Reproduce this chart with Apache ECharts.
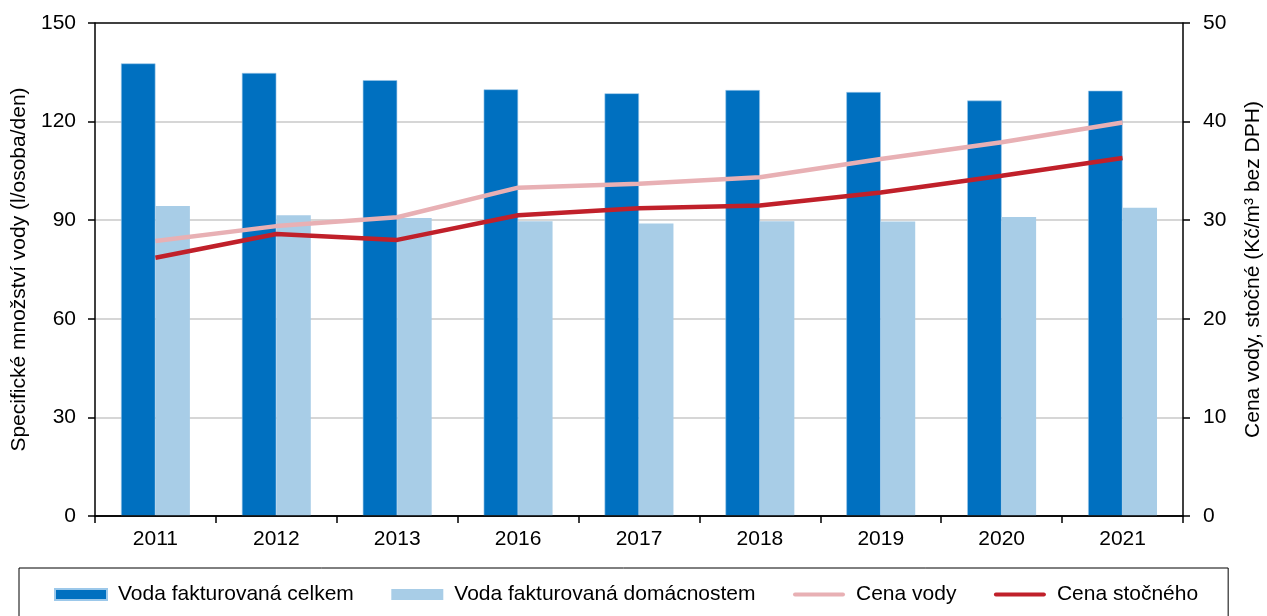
<!DOCTYPE html>
<html>
<head>
<meta charset="utf-8">
<script src="https://cdn.jsdelivr.net/npm/echarts@6/dist/echarts.min.js"></script>
<style>html,body{margin:0;padding:0;background:#fff}#c{width:1267px;height:616px}</style>
</head>
<body>
<div id="c"></div>
<script>
const years = ['2011','2012','2013','2016','2017','2018','2019','2020','2021'];
const vodaCelkem = [137.7, 134.8, 132.6, 129.8, 128.6, 129.6, 129.0, 126.4, 129.4];
const vodaDomacnosti = [94.3, 91.5, 90.7, 89.7, 89.0, 89.7, 89.6, 91.0, 93.8];
const cenaVody = [27.9, 29.4, 30.3, 33.3, 33.7, 34.35, 36.2, 37.9, 39.9];
const cenaStocneho = [26.2, 28.6, 28.0, 30.5, 31.2, 31.5, 32.8, 34.5, 36.3];
const seriesNames = ['Voda fakturovaná celkem','Voda fakturovaná domácnostem','Cena vody','Cena stočného'];

const font = 'Liberation Sans, Arial, sans-serif';
const lineIcon = 'path://M2,0 H50 A2,2 0 0 1 50,4 H2 A2,2 0 0 1 2,0 Z';
const grey = '#c8c8c8';
const chart = echarts.init(document.getElementById('c'));
chart.setOption({
  animation: false,
  textStyle: {fontFamily: font, color: '#000'},
  grid: {left: 95, right: 84, top: 23, bottom: 100, outerBoundsMode: 'none', containLabel: false},
  legend: {
    left: 19, top: 568,
    padding: [16, 30, 20, 35],
    borderColor: '#000', borderWidth: 1,
    itemWidth: 52, itemHeight: 11, itemGap: 37.5,
    textStyle: {fontFamily: font, fontSize: 21, color: '#000', padding: [0,0,0,6]},
    data: [
      {name: seriesNames[0], icon: 'rect'},
      {name: seriesNames[1], icon: 'rect'},
      {name: seriesNames[2], icon: lineIcon},
      {name: seriesNames[3], icon: lineIcon}
    ]
  },
  xAxis: [{
    type: 'category', data: years, boundaryGap: true,
    axisLine: {lineStyle: {color: '#000', width: 1.5}},
    axisTick: {show: true, length: 7, lineStyle: {color: '#000', width: 1.5}},
    axisLabel: {fontSize: 21, color: '#000', margin: 13, fontFamily: font}
  }, {
    type: 'category', data: years, position: 'top', z: 10,
    axisLine: {show: true, lineStyle: {color: '#000', width: 1.5}},
    axisTick: {show: false}, axisLabel: {show: false}, splitLine: {show: false}
  }],
  yAxis: [{
    type: 'value', min: 0, max: 150, interval: 30,
    name: 'Specifické množství vody (l/osoba/den)', nameLocation: 'middle', nameGap: 63, nameRotate: 90,
    nameTextStyle: {fontSize: 21, color: '#000', fontFamily: font},
    axisLine: {show: true, lineStyle: {color: '#000', width: 1.5}},
    axisTick: {show: true, length: 7, lineStyle: {color: '#000', width: 1.5}},
    axisLabel: {fontSize: 21, color: '#000', margin: 19, fontFamily: font},
    splitLine: {lineStyle: {color: [grey, grey, grey, grey, grey, '#000'], width: 1.5}}
  }, {
    type: 'value', min: 0, max: 50, interval: 10, position: 'right',
    name: 'Cena vody, stočné (Kč/m³ bez DPH)', nameLocation: 'middle', nameGap: 60, nameRotate: 90,
    nameTextStyle: {fontSize: 21, color: '#000', fontFamily: font},
    axisLine: {show: true, lineStyle: {color: '#000', width: 1.5}},
    axisTick: {show: true, length: 7, lineStyle: {color: '#000', width: 1.5}},
    axisLabel: {fontSize: 21, color: '#000', margin: 20, fontFamily: font},
    splitLine: {show: false}
  }],
  series: [
    {name: seriesNames[0], type: 'bar', data: vodaCelkem, barWidth: '28.5%', barGap: '0%',
     itemStyle: {color: '#0070C0', borderColor: '#9cc8ea', borderWidth: 0.6}},
    {name: seriesNames[1], type: 'bar', data: vodaDomacnosti, barWidth: '28.5%', barGap: '0%',
     itemStyle: {color: '#A8CDE7'}},
    {name: seriesNames[2], type: 'line', yAxisIndex: 1, data: cenaVody, symbol: 'none',
     lineStyle: {color: '#E8B0B4', width: 4.5}, itemStyle: {color: '#E8B0B4'}},
    {name: seriesNames[3], type: 'line', yAxisIndex: 1, data: cenaStocneho, symbol: 'none',
     lineStyle: {color: '#C0202A', width: 4.5}, itemStyle: {color: '#C0202A'}}
  ]
});
</script>
</body>
</html>
